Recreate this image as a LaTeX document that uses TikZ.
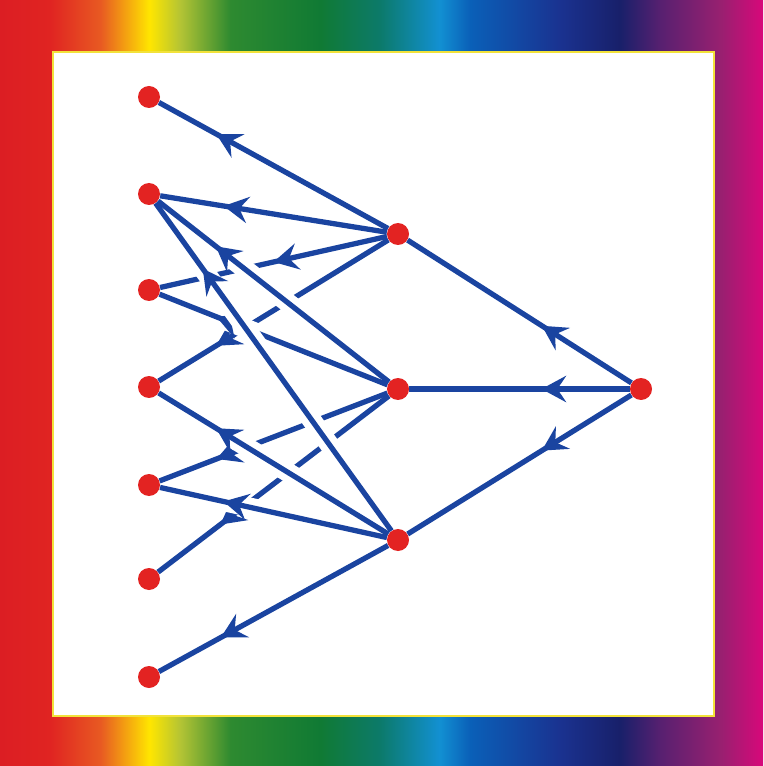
\documentclass[tikz,border=0pt]{standalone}
\usetikzlibrary{arrows.meta,decorations.markings,backgrounds}
\definecolor{lineblue}{HTML}{1A44A0}
\definecolor{dotred}{HTML}{E32322}
\definecolor{rim}{HTML}{F2E23A}
\definecolor{sA}{HTML}{DC1E23}
\definecolor{sB}{HTML}{E02422}
\definecolor{sC}{HTML}{E85A22}
\definecolor{sD}{HTML}{FFE600}
\definecolor{sE}{HTML}{B4C434}
\definecolor{sF}{HTML}{2E8A30}
\definecolor{sG}{HTML}{107A34}
\definecolor{sH}{HTML}{0C7A6A}
\definecolor{sI}{HTML}{1290D2}
\definecolor{sJ}{HTML}{0A60B8}
\definecolor{sK}{HTML}{1A3290}
\definecolor{sL}{HTML}{18206A}
\definecolor{sM}{HTML}{582070}
\definecolor{sN}{HTML}{982070}
\definecolor{sO}{HTML}{D8087A}
\pgfdeclarehorizontalshading{rainbow}{100bp}{
    color(0bp)=(sA); color(25bp)=(sA); color(28.3bp)=(sB);
    color(31.6bp)=(sC); color(34.8bp)=(sD); color(36.8bp)=(sE);
    color(40.1bp)=(sF); color(46bp)=(sG); color(49.9bp)=(sH);
    color(53.8bp)=(sI); color(55.8bp)=(sJ); color(61.7bp)=(sK);
    color(65.6bp)=(sL); color(68.3bp)=(sM); color(72.2bp)=(sN);
    color(75bp)=(sO); color(100bp)=(sO)}

\begin{document}
\begin{tikzpicture}[x=0.02cm, y=-0.02cm,
    >={Stealth[length=14pt, width=15pt, inset=5pt]},
    dot/.style={circle, fill=dotred, inner sep=0pt, minimum size=0.44cm},
    edge/.style={line width=3pt, color=lineblue, postaction={decorate},
        decoration={markings, mark=at position #1 with {\arrow{>}}}},
    edge/.default=0.75,
    over/.style={preaction={draw=white, line width=11pt,
        shorten <=20pt, shorten >=20pt}},
]

\useasboundingbox (0,0) rectangle (763,766);

% Rainbow frame
\begin{scope}[on background layer]
\shade[shading=rainbow] (0,0) rectangle (763,766);
\fill[white, draw=rim, line width=1pt] (53,52) rectangle (714,716);
\end{scope}

% Left column
\node[dot] (l1) at (149,97) {};
\node[dot] (l2) at (149,194) {};
\node[dot] (l3) at (149,290) {};
\node[dot] (l4) at (149,387) {};
\node[dot] (l5) at (149,485) {};
\node[dot] (l6) at (149,579) {};
\node[dot] (l7) at (149,677) {};

% Middle column
\node[dot] (m1) at (398,234) {};
\node[dot] (m2) at (398,389) {};
\node[dot] (m3) at (398,540) {};

% Source
\node[dot] (r) at (641,389) {};

\begin{scope}[on background layer]
% Wires passing underneath, lowest first
\draw[edge=0.73] (m2) -- (l6);
\draw[edge=0.72, over] (m3) -- (l5);
\draw[edge] (m2) -- (l5);
\draw[edge] (m1) -- (l4);
\draw[edge=0.5] (m1) -- (l3);

% Wires passing over
\draw[edge, over] (m2) -- (l2);
\draw[edge, over] (m2) -- (l3);
\draw[edge=0.8, over] (m3) -- (l2);
\draw[edge, over] (m3) -- (l4);
\draw[edge] (m1) -- (l1);
\draw[edge=0.72] (m1) -- (l2);
\draw[edge=0.73] (m3) -- (l7);

% Source to middle
\draw[edge=0.4] (r) -- (m1);
\draw[edge=0.4] (r) -- (m2);
\draw[edge=0.4] (r) -- (m3);
\end{scope}

\end{tikzpicture}
\end{document}
